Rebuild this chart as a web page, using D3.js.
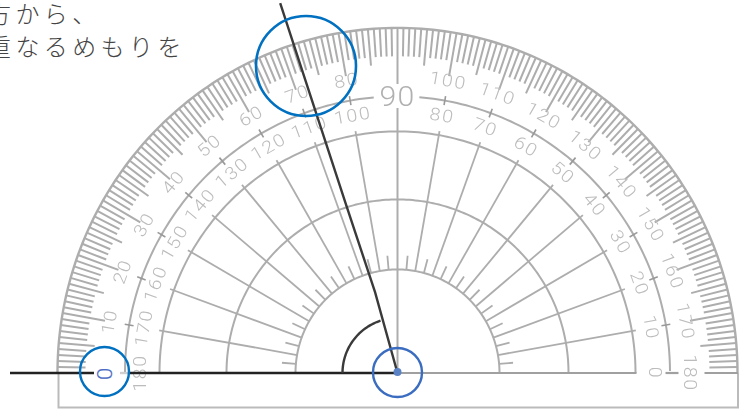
<!DOCTYPE html>
<html><head><meta charset="utf-8">
<script src="https://cdn.jsdelivr.net/npm/d3@7/dist/d3.min.js"></script>
<style>html,body{margin:0;padding:0;background:#fff;overflow:hidden}svg{display:block}</style>
</head><body><svg id="c" width="751" height="409"></svg>
<script>
const captionLines = ["方から、", "重なるめもりを"];
const outerLabels = [10,20,30,40,50,60,70,80,100,110,120,130,140,150,160,170,180];
const innerLabels = [0,10,20,30,40,50,60,70,80,100,110,120,130,140,150,160,170,180];
const degrees = d3.range(0,181);
const spokeDegrees = d3.range(10,180,10).filter(d=>d!==90);
const shortDegrees = d3.range(5,180,10);
const arcRadii = [340,238,171,102];
const measuredAngle = 72.4;
const pointerDegrees = [74.5,73,72.4];
const pointerRadii = [84,176,388];

const cx=397.5, cy=373, yS=1.015, gray="#adadad";
const svg=d3.select("#c");
const defs=svg.append("defs");
defs.append("filter").attr("id","soft").append("feGaussianBlur").attr("stdDeviation",0.35);
const ang=d3.scaleLinear().domain([0,180]).range([Math.PI,0]); // degrees measured from left
const pt=(r,d)=>[cx+r*Math.cos(ang(d)), cy-r*Math.sin(ang(d))*yS];
const ptFlat=(r,d)=>[cx+r*Math.cos(ang(d)), cy-r*Math.sin(ang(d))];
const line=d3.line();
const arcPath=(r,a,b)=>line(d3.range(a,b+.01,1).map(d=>pt(r,d)));
const seg=(g,r0,r1,d,w,col)=>g.append("path").attr("d",line([pt(r0,d),pt(r1,d)])).attr("stroke",col||gray).attr("stroke-width",w).attr("fill","none");

const g=svg.append("g").attr("filter","url(#soft)");
// body outline
g.append("path").attr("d",line([[cx-339,cy],[cx-339,407.5],[cx+340.5,407.5],[cx+340.5,cy]])).attr("fill","none").attr("stroke","#bbbbbb").attr("stroke-width",2);
// arcs
arcRadii.forEach((r,i)=>g.append("path").attr("d",arcPath(r,0,180)).attr("fill","none").attr("stroke",gray).attr("stroke-width",i==0?2.4:2));
[[0,85.4],[94.6,180]].forEach(([a,b])=>g.append("path").attr("d",arcPath(272.5,a,b)).attr("fill","none").attr("stroke",gray).attr("stroke-width",2));
// degree ticks
degrees.filter(d=>d>0&&d<180&&d!==90).forEach(d=>{
  const len=d%10==0?43:d%5==0?36:28;
  seg(g,340,340-len,d,2);
});
// spokes + marks
spokeDegrees.forEach(d=>{seg(g,102,242,d,1.8); seg(g,268,277,d,1.6,"#999");});
shortDegrees.forEach(d=>seg(g,102,116,d,1.8));
// centre vertical
g.append("path").attr("d",line([[cx,cy],[cx,108]])).attr("stroke",gray).attr("stroke-width",2);
g.append("path").attr("d",line([[cx,84],[cx,28]])).attr("stroke",gray).attr("stroke-width",2);
// baseline right (gaps around labels)
[[0,239],[268,281],[307,340.5]].forEach(([a,b])=>g.append("path").attr("d",line([[cx+a,cy],[cx+b,cy]])).attr("stroke","#a0a0a0").attr("stroke-width",2.2));

const font="Roboto, Lato, sans-serif";
const label=(r,d,t,col,parent,sx)=>{
  const [x,y]=pt(r,d);
  return (parent||g).append("text").attr("transform",`translate(${x},${y}) rotate(${d-90}) scale(${sx||1.12},1)`)
   .attr("text-anchor","middle").attr("dy","0.36em").attr("font-family",font).attr("font-weight",300)
   .attr("font-size",17.5).attr("letter-spacing",1.5).attr("fill",col||"#bcbcbc").text(t);
};
outerLabels.forEach(v=>label(293,v,v));
innerLabels.forEach(v=>label(258,180-v,v));
// big 90
g.append("text").attr("transform",`translate(${cx},${cy-277}) scale(1.12,1)`).attr("dy","0.36em").attr("text-anchor","middle").attr("font-family",font).attr("font-weight",300)
 .attr("font-size",27).attr("letter-spacing",1).attr("fill","#b0b0b0").text(90);

// measurement lines
const dark="#3a3a3a";
const pointer=[[cx,cy]].concat(pointerDegrees.map((d,i)=>ptFlat(pointerRadii[i],d)));
svg.append("path").attr("d",line(pointer)).attr("stroke",dark).attr("stroke-width",2.4).attr("fill","none");
svg.append("path").attr("d",line([[120,cy],[129,cy]])).attr("stroke","#cfcfcf").attr("stroke-width",2.4);
[[10,94],[129,397]].forEach(([a,b])=>svg.append("path").attr("d",line([[a,cy],[b,cy]])).attr("stroke","#222").attr("stroke-width",2.4));
svg.append("path").attr("d",line(d3.range(0,measuredAngle+.01,2).map(d=>ptFlat(55,d)))).attr("fill","none").attr("stroke",dark).attr("stroke-width",2.4);
// baseline zero label highlighted
const z=label(292.5,0,0,"#4a6cc4",svg,1.1); z.attr("stroke","#4a6cc4").attr("stroke-width",.2).attr("font-size",20);
// centre dot & circles
svg.append("circle").attr("cx",cx).attr("cy",cy-1).attr("r",4).attr("fill","#5b82c4");
svg.append("circle").attr("cx",cx).attr("cy",372.5).attr("r",24.5).attr("fill","none").attr("stroke","#3a6cc0").attr("stroke-width",2.4);
svg.append("circle").attr("cx",104.5).attr("cy",371.5).attr("r",24.5).attr("fill","none").attr("stroke","#0070c0").attr("stroke-width",2.4);
svg.append("circle").attr("cx",306).attr("cy",66).attr("r",50).attr("fill","none").attr("stroke","#0070c0").attr("stroke-width",2.6);
// caption
svg.selectAll("text.cap").data(captionLines).join("text").attr("class","cap")
 .attr("x",-13).attr("y",(d,i)=>23+i*33).attr("font-family","'Noto Sans CJK JP'").attr("font-weight",300)
 .attr("font-size",24).attr("letter-spacing",4.4).attr("fill","#444").text(d=>d);
</script></body></html>
